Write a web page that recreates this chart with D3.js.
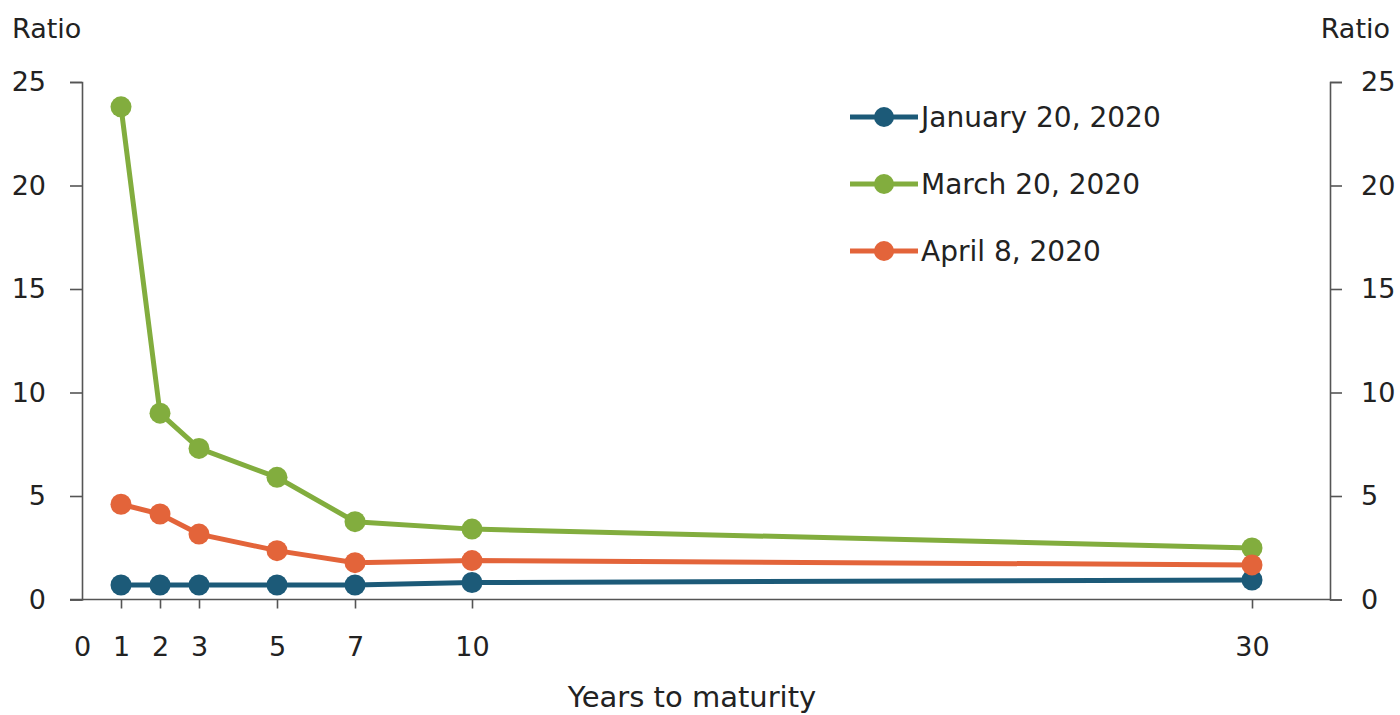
<!DOCTYPE html>
<html>
<head>
<meta charset="utf-8">
<script src="https://cdn.jsdelivr.net/npm/d3@7"></script>
<style>
  body { margin: 0; background: #fff; }
  svg text { font-family: "DejaVu Sans", Verdana, sans-serif; fill: #222; }
</style>
</head>
<body>
<div id="chart"></div>
<script>
// data
var maturities = [1, 2, 3, 5, 7, 10, 30];
var xTicks = [0, 1, 2, 3, 5, 7, 10, 30];
var yTicks = [0, 5, 10, 15, 20, 25];
var seriesNames = ["January 20, 2020", "March 20, 2020", "April 8, 2020"];
var seriesColors = ["#1c5a78", "#82ad3e", "#e3643a"];
var jan20 = [0.7, 0.7, 0.7, 0.7, 0.7, 0.82, 0.94];
var mar20 = [23.8, 9.0, 7.3, 5.9, 3.76, 3.4, 2.49];
var apr08 = [4.6, 4.13, 3.16, 2.36, 1.78, 1.88, 1.67];
var allSeries = [jan20, mar20, apr08];

var width = 1400, height = 715;
var margin = {left: 82, right: 1330, top: 82, bottom: 599.5};

var svg = d3.select("#chart")
  .append("svg")
    .attr("width", width)
    .attr("height", height);

var x = d3.scaleLinear().domain([0, 32]).range([margin.left, margin.right]);
var y = d3.scaleLinear().domain([0, 25]).range([margin.bottom, margin.top]);

// left axis
var gl = svg.append("g")
  .attr("transform", "translate(" + margin.left + ",0)")
  .call(d3.axisLeft(y).tickValues(yTicks).tickSize(12).tickPadding(24));
// right axis
var gr = svg.append("g")
  .attr("transform", "translate(" + margin.right + ",0)")
  .call(d3.axisRight(y).tickValues(yTicks).tickSize(12).tickPadding(19));
// bottom axis
var gb = svg.append("g")
  .attr("transform", "translate(0," + margin.bottom + ")")
  .call(d3.axisBottom(x).tickValues(xTicks).tickSize(9).tickPadding(28));

[gl, gr, gb].forEach(function(g) {
  g.select(".domain").attr("stroke", "#555").attr("stroke-width", 1.6);
  g.selectAll(".tick line").attr("stroke", "#555").attr("stroke-width", 1.6);
  g.selectAll(".tick text").style("font-size", "27px").attr("fill", "#222");
});
gb.select(".domain").attr("d", "M" + (margin.left - 12) + ",0H" + margin.right);
gb.selectAll(".tick").filter(function(d) { return d === 0; }).select("line").remove();

// axis titles
svg.append("text")
  .attr("x", 12).attr("y", 38)
  .style("font-size", "27px")
  .text("Ratio");
svg.append("text")
  .attr("x", 1390).attr("y", 38)
  .style("font-size", "27px")
  .style("text-anchor", "end")
  .text("Ratio");
svg.append("text")
  .attr("x", 692).attr("y", 707)
  .style("font-size", "29px")
  .style("text-anchor", "middle")
  .text("Years to maturity");

// lines and markers
var line = d3.line()
  .x(function(d, i) { return x(maturities[i]); })
  .y(function(d) { return y(d); });

allSeries.forEach(function(vals, s) {
  svg.append("path")
    .datum(vals)
    .attr("fill", "none")
    .attr("stroke", seriesColors[s])
    .attr("stroke-width", 5)
    .attr("d", line);
  svg.selectAll(".dot" + s)
    .data(vals)
    .enter()
    .append("circle")
    .attr("cx", function(d, i) { return x(maturities[i]); })
    .attr("cy", function(d) { return y(d); })
    .attr("r", 10.5)
    .attr("fill", seriesColors[s]);
});

// legend
var legend = svg.append("g").attr("transform", "translate(850,117)");
seriesNames.forEach(function(name, i) {
  var row = legend.append("g").attr("transform", "translate(0," + (i * 67) + ")");
  row.append("line")
    .attr("x1", 0).attr("x2", 68)
    .attr("stroke", seriesColors[i])
    .attr("stroke-width", 5);
  row.append("circle")
    .attr("cx", 34).attr("r", 10)
    .attr("fill", seriesColors[i]);
  row.append("text")
    .attr("x", 71).attr("dy", "0.35em")
    .style("font-size", "28px")
    .text(name);
});
</script>
</body>
</html>
